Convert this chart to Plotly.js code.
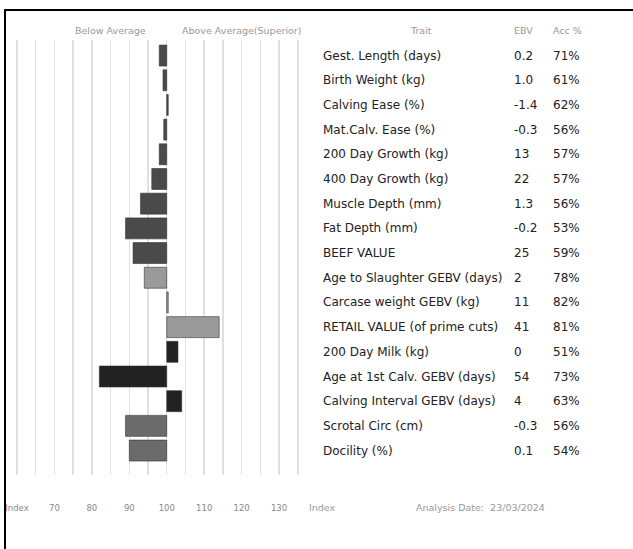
<!DOCTYPE html>
<html>
<head>
<meta charset="utf-8">
<script src="https://cdn.plot.ly/plotly-3.0.1.min.js"></script>
<style>html,body{margin:0;padding:0;background:#fff;}#chart{width:633px;height:549px;}</style>
</head>
<body>
<div id="chart"></div>
<script>
// ---- data ----
const traits = [
  "Gest. Length (days)", "Birth Weight (kg)", "Calving Ease (%)", "Mat.Calv. Ease (%)",
  "200 Day Growth (kg)", "400 Day Growth (kg)", "Muscle Depth (mm)", "Fat Depth (mm)",
  "BEEF VALUE", "Age to Slaughter GEBV (days)", "Carcase weight GEBV (kg)",
  "RETAIL VALUE (of prime cuts)", "200 Day Milk (kg)", "Age at 1st Calv. GEBV (days)",
  "Calving Interval GEBV (days)", "Scrotal Circ (cm)", "Docility (%)"
];
const ebv = ["0.2","1.0","-1.4","-0.3","13","22","1.3","-0.2","25","2","11","41","0","54","4","-0.3","0.1"];
const acc = ["71%","61%","62%","56%","57%","57%","56%","53%","59%","78%","82%","81%","51%","73%","63%","56%","54%"];
const indexValues = [98, 99, 100.4, 99.2, 98, 96, 93, 89, 91, 94, 100.4, 114, 103, 82, 104, 89, 90];
const barColors = ["#4a4a4a","#4a4a4a","#4a4a4a","#4a4a4a","#4a4a4a","#4a4a4a","#4a4a4a","#4a4a4a","#4a4a4a",
                   "#9a9a9a","#9a9a9a","#9a9a9a","#222222","#222222","#222222","#6b6b6b","#6b6b6b"];
const gridVals = [60,65,70,75,80,85,90,95,100,105,110,115,120,125,130,135];
const gridText = ["Index","","70","","80","","90","","100","","110","","120","","130",""];
const average = 100;

// ---- chart ----
const rows = traits.map((t, i) => i);
const trace = {
  type: "bar",
  orientation: "h",
  y: rows,
  x: indexValues.map(v => v - average),
  base: average,
  width: 0.85,
  marker: {color: barColors, line: {color: "#333", width: 0.6}},
  hoverinfo: "skip"
};

const F = "Open Sans, sans-serif";
const FT = "DejaVu Sans, sans-serif";
const annotations = [];
const pxToPaper = px => (px - 2) / 322;
const rowFont = {family: FT, size: 12, color: "#222"};
traits.forEach((t, i) => {
  annotations.push({xref: "paper", yref: "y", x: pxToPaper(321), y: i, text: t, showarrow: false,
    xanchor: "left", yanchor: "middle", font: rowFont});
  annotations.push({xref: "paper", yref: "y", x: pxToPaper(512), y: i, text: ebv[i], showarrow: false,
    xanchor: "left", yanchor: "middle", font: rowFont});
  annotations.push({xref: "paper", yref: "y", x: pxToPaper(551), y: i, text: acc[i], showarrow: false,
    xanchor: "left", yanchor: "middle", font: rowFont});
});
const hdr = {family: FT, size: 9.5, color: "#999"};
const topY = 1 + (40 - 30) / 435;
function note(xref, x, y, text, xanchor) {
  annotations.push({xref: xref, yref: "paper", x: x, y: y, text: text, showarrow: false,
    xanchor: xanchor, yanchor: "middle", font: hdr});
}
note("paper", pxToPaper(421), topY, "Trait", "center");
note("paper", pxToPaper(512), topY, "EBV", "left");
note("paper", pxToPaper(551), topY, "Acc %", "left");
note("x", 85, topY, "Below Average", "center");
note("x", 120, topY, "Above Average(Superior)", "center");
const botY = -(507 - 475) / 435;
note("x", 141.7, botY, "Index", "center");
note("paper", pxToPaper(414), botY, "Analysis Date:  23/03/2024", "left");

const layout = {
  width: 633, height: 549,
  margin: {l: 2, r: 309, t: 40, b: 74, pad: 0},
  paper_bgcolor: "#fff", plot_bgcolor: "#fff",
  showlegend: false,
  bargap: 0.15,
  xaxis: {
    range: [56, 142], tickmode: "array", tickvals: gridVals, ticktext: gridText,
    showgrid: true, gridcolor: "#e0e0e0", gridwidth: 1.5, zeroline: false, showline: false,
    ticks: "outside", ticklen: 25, tickcolor: "rgba(0,0,0,0)",
    tickfont: {family: FT, size: 8.5, color: "#888"}, fixedrange: true
  },
  yaxis: {
    range: [16.99, -0.63], showgrid: false, zeroline: false, showticklabels: false,
    showline: false, ticks: "", fixedrange: true
  },
  annotations: annotations,
  shapes: [
    {type: "line", xref: "paper", yref: "paper", x0: pxToPaper(5), x1: pxToPaper(5), y0: 1 + 30/435, y1: -74/435, line: {color: "#000", width: 2}},
    {type: "line", xref: "paper", yref: "paper", x0: pxToPaper(4), x1: pxToPaper(640), y0: 1 + 30/435, y1: 1 + 30/435, line: {color: "#000", width: 2}}
  ]
};

Plotly.newPlot("chart", [trace], layout, {displayModeBar: false, staticPlot: true});
</script>
</body>
</html>
